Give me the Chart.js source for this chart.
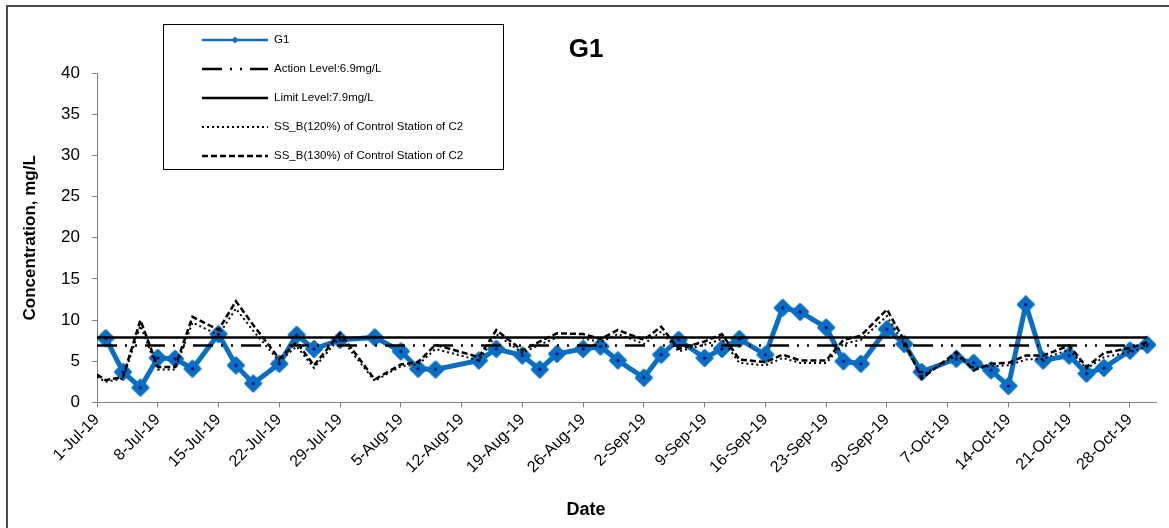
<!DOCTYPE html>
<html>
<head>
<meta charset="utf-8">
<script src="https://cdn.jsdelivr.net/npm/chart.js@4.4.1/dist/chart.umd.min.js"></script>
<style>
  html, body { margin: 0; padding: 0; background: #fff; }
  #wrap { width: 1169px; height: 528px; }
</style>
</head>
<body>
<div id="wrap"><canvas id="g1Chart" width="1169" height="528"></canvas></div>
<script>
// days counted from 1-Jul-19
const G1Days = [1, 3, 5, 7, 9, 11, 14, 16, 18, 21, 23, 25, 28, 32, 35, 37, 39, 44, 46, 49, 51, 53, 56, 58, 60,
  63, 65, 67, 70, 72, 74, 77, 79, 81, 84, 86, 88, 91, 93, 95, 99, 101, 103, 105, 107, 109, 112, 114, 116, 119, 121];
const G1Values = [7.8, 3.7, 1.8, 5.4, 5.3, 4.1, 8.3, 4.5, 2.3, 4.7, 8.2, 6.5, 7.6, 7.9, 6.2, 4.1, 4.0, 5.1, 6.5, 5.7, 4.0, 5.9, 6.5, 6.8, 5.1,
  3.0, 5.8, 7.6, 5.4, 6.5, 7.7, 5.8, 11.5, 11.0, 9.1, 5.0, 4.7, 8.9, 7.1, 3.7, 5.3, 4.8, 3.9, 2.0, 11.9, 5.1, 5.7, 3.5, 4.2, 6.3, 7.0];

const SSDays = [0, 1, 3, 5, 7, 9, 11, 14, 16, 18, 21, 23, 25, 28, 32, 35, 37, 39, 44, 46, 49, 51, 53, 56, 58, 60,
  63, 65, 67, 70, 72, 74, 77, 79, 81, 84, 86, 88, 91, 93, 95, 99, 101, 103, 105, 107, 109, 112, 114, 116, 119, 121];
const SS120Values = [3.1, 2.5, 2.9, 9.3, 4.0, 4.0, 9.7, 8.2, 11.4, 8.7, 5.0, 6.8, 4.2, 7.9, 2.6, 4.4, 4.6, 6.5, 5.1, 8.3,
  6.0, 7.0, 7.9, 7.8, 7.3, 8.3, 7.1, 8.6, 6.2, 7.0, 7.7, 4.8, 4.5, 5.4, 4.8, 4.8, 7.1, 7.6, 10.5, 7.0,
  3.2, 5.7, 4.2, 4.4, 4.5, 5.2, 5.3, 6.4, 4.1, 5.5, 6.1, 6.8];
const SS130Values = [3.4, 2.7, 3.1, 10.0, 4.3, 4.3, 10.4, 8.8, 12.3, 9.4, 5.3, 7.3, 4.5, 8.4, 2.8, 4.6, 4.9, 7.0, 5.5, 8.8,
  6.3, 7.4, 8.4, 8.3, 7.7, 8.8, 7.6, 9.2, 6.5, 7.4, 8.3, 5.2, 4.9, 5.8, 5.1, 5.1, 7.6, 8.1, 11.3, 7.5,
  2.9, 6.1, 3.9, 4.7, 4.8, 5.7, 5.7, 6.9, 4.3, 6.0, 6.6, 7.3];

const LevelDays = [0, 121];
const ActionLevel = 6.9;
const LimitLevel = 7.9;

const XTicks = [0, 7, 14, 21, 28, 35, 42, 49, 56, 63, 70, 77, 84, 91, 98, 105, 112, 119];
const MonthNames = ['Jan', 'Feb', 'Mar', 'Apr', 'May', 'Jun', 'Jul', 'Aug', 'Sep', 'Oct', 'Nov', 'Dec'];

const BLUE = '#0A6FC2';

function dayLabel(day) {
  const d = new Date(2019, 6, 1 + day);
  return d.getDate() + '-' + MonthNames[d.getMonth()] + '-19';
}

function toPoints(days, values) {
  return days.map((d, i) => ({ x: d, y: values[i] }));
}

// blue diamond with a small dark dot in the middle
function makeDiamond() {
  const c = document.createElement('canvas');
  c.width = 20; c.height = 20;
  const g = c.getContext('2d');
  g.fillStyle = BLUE; g.strokeStyle = BLUE;
  g.lineWidth = 3; g.lineJoin = 'round';
  g.beginPath();
  g.moveTo(10, 2.5); g.lineTo(17.5, 10); g.lineTo(10, 17.5); g.lineTo(2.5, 10);
  g.closePath(); g.fill(); g.stroke();
  g.fillStyle = '#00007A';
  g.beginPath(); g.arc(10, 10, 1.6, 0, Math.PI * 2); g.fill();
  return c;
}

const framePlugin = {
  id: 'frame',
  beforeDraw(chart) {
    const ctx = chart.ctx;
    ctx.save();
    ctx.fillStyle = '#fff';
    ctx.fillRect(0, 0, chart.width, chart.height);
    ctx.strokeStyle = '#4d4d4d';
    ctx.lineWidth = 2;
    ctx.beginPath();
    ctx.moveTo(7, chart.height); ctx.lineTo(7, 6); ctx.lineTo(chart.width, 6);
    ctx.stroke();
    ctx.restore();
  }
};

// boxed legend drawn like the spreadsheet one
const boxLegend = {
  id: 'boxLegend',
  afterDraw(chart) {
    const ctx = chart.ctx;
    ctx.save();
    ctx.fillStyle = '#fff';
    ctx.fillRect(163, 25, 340, 145);
    ctx.strokeStyle = '#000';
    ctx.lineWidth = 1;
    ctx.strokeRect(163.5, 24.5, 340, 145);
    ctx.font = "11.5px 'Liberation Sans', Arial, sans-serif";
    ctx.textBaseline = 'middle';
    chart.data.datasets.forEach((ds, i) => {
      const y = 40 + i * 29;
      ctx.save();
      ctx.strokeStyle = ds.borderColor;
      ctx.lineWidth = i === 0 ? 2.5 : ds.borderWidth;
      ctx.setLineDash(ds.borderDash || []);
      ctx.beginPath();
      ctx.moveTo(202, y); ctx.lineTo(268, y);
      ctx.stroke();
      if (i === 0) {
        ctx.fillStyle = BLUE;
        ctx.beginPath();
        ctx.moveTo(235, y - 3.5); ctx.lineTo(238.5, y); ctx.lineTo(235, y + 3.5); ctx.lineTo(231.5, y);
        ctx.closePath(); ctx.fill();
      }
      ctx.restore();
      ctx.fillStyle = '#000';
      ctx.fillText(ds.label, 274, y);
    });
    ctx.restore();
  }
};

Chart.defaults.font.family = "'Liberation Sans', Arial, sans-serif";
Chart.defaults.color = '#000';

const ctx = document.getElementById('g1Chart').getContext('2d');
const myChart = new Chart(ctx, {
  type: 'line',
  data: {
    datasets: [
      {
        label: 'G1',
        data: toPoints(G1Days, G1Values),
        borderColor: BLUE,
        backgroundColor: BLUE,
        borderWidth: 5,
        pointStyle: makeDiamond(),
        pointRadius: 8,
        order: 1
      },
      {
        label: 'Action Level:6.9mg/L',
        data: LevelDays.map(d => ({ x: d, y: ActionLevel })),
        borderColor: '#000',
        borderWidth: 2.5,
        borderDash: [20, 8, 2, 8, 2, 8],
        pointRadius: 0,
        order: 0
      },
      {
        label: 'Limit Level:7.9mg/L',
        data: LevelDays.map(d => ({ x: d, y: LimitLevel })),
        borderColor: '#000',
        borderWidth: 2.5,
        pointRadius: 0,
        order: 0
      },
      {
        label: 'SS_B(120%) of Control Station of C2',
        data: toPoints(SSDays, SS120Values),
        borderColor: '#000',
        borderWidth: 2,
        borderDash: [2, 3],
        pointRadius: 0,
        order: 0
      },
      {
        label: 'SS_B(130%) of Control Station of C2',
        data: toPoints(SSDays, SS130Values),
        borderColor: '#000',
        borderWidth: 2.5,
        borderDash: [6, 3],
        pointRadius: 0,
        order: 0
      }
    ]
  },
  options: {
    responsive: false,
    devicePixelRatio: 1,
    animation: false,
    layout: { padding: { left: 16, right: 13, top: 0, bottom: 4 } },
    elements: { line: { tension: 0 } },
    scales: {
      x: {
        type: 'linear',
        min: 0,
        max: 122,
        afterBuildTicks: scale => { scale.ticks = XTicks.map(v => ({ value: v })); },
        afterFit: scale => { scale.height = 97; },
        grid: { drawOnChartArea: false, color: '#808080', tickLength: 5 },
        border: { color: '#808080' },
        ticks: {
          autoSkip: false,
          maxRotation: 45,
          minRotation: 45,
          padding: 3,
          font: { size: 16 },
          callback: v => dayLabel(v)
        }
      },
      y: {
        min: 0,
        max: 40,
        afterFit: scale => { scale.width = 81; },
        grid: { drawOnChartArea: false, color: '#808080', tickLength: 5 },
        border: { color: '#808080' },
        ticks: { stepSize: 5, padding: 12, font: { size: 17 } },
        title: {
          display: true,
          text: 'Concentration, mg/L',
          font: { size: 17, weight: 'bold' }
        }
      }
    },
    plugins: {
      legend: { display: false },
      tooltip: { enabled: false },
      title: {
        display: true,
        text: 'G1',
        font: { size: 26, weight: 'bold' },
        padding: { top: 34, bottom: 8 }
      },
      subtitle: {
        display: true,
        position: 'bottom',
        text: 'Date',
        font: { size: 18, weight: 'bold' },
        padding: { top: 0, bottom: 3 }
      }
    }
  },
  plugins: [framePlugin, boxLegend]
});
</script>
</body>
</html>
